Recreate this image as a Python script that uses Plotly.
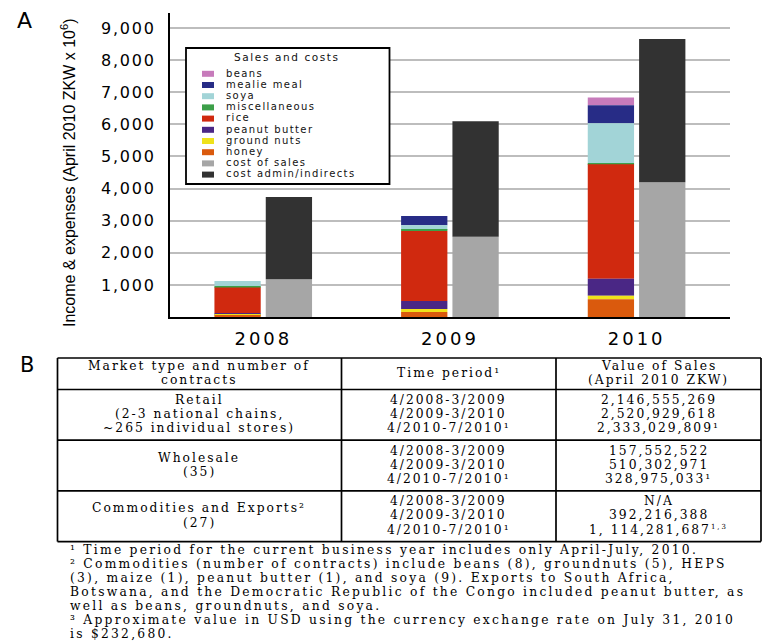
import numpy as np
import plotly.graph_objects as go

W, H = 764, 641

# ---------------- Panel A data ----------------
years = ["2008", "2009", "2010"]

sales_names = ["beans", "mealie meal", "soya", "miscellaneous", "rice",
               "peanut butter", "ground nuts", "honey"]
beans = [0, 0, 237]
mealie_meal = [0, 290, 561]
soya = [170, 137, 1246]
miscellaneous = [35, 40, 31]
rice = [800, 2181, 3565]
peanut_butter = [45, 250, 530]
ground_nuts = [35, 93, 112]
honey = [40, 156, 552]

cost_names = ["cost of sales", "cost admin/indirects"]
cost_of_sales = [1175, 2502, 4198]
cost_admin = [2565, 3597, 4465]

y_tick_vals = [1000, 2000, 3000, 4000, 5000, 6000, 7000, 8000, 9000]
y_tick_text = ["1,000", "2,000", "3,000", "4,000", "5,000", "6,000", "7,000", "8,000", "9,000"]

# ---------------- Panel B data ----------------
table_header = [["Market type and number of", "contracts"],
                ["Time period¹"],
                ["Value of Sales", "(April 2010 ZKW)"]]
market_types = [["Retail", "(2-3 national chains,", "~265 individual stores)"],
                ["Wholesale", "(35)"],
                ["Commodities and Exports²", "(27)"]]
time_periods = ["4/2008-3/2009", "4/2009-3/2010", "4/2010-7/2010¹"]
sales_values = [["2,146,555,269", "2,520,929,618", "2,333,029,809¹"],
                ["157,552,522", "510,302,971", "328,975,033¹"],
                ["N/A", "392,216,388",
                 '1, 114,281,687<sup><span style="font-size:7px">1,3</span></sup>']]
footnotes = [
    "¹ Time period for the current business year includes only April-July, 2010.",
    "² Commodities (number of contracts) include beans (8), groundnuts (5), HEPS",
    "(3), maize (1), peanut butter (1), and soya (9). Exports to South Africa,",
    "Botswana, and the Democratic Republic of the Congo included peanut butter, as",
    "well as beans, groundnuts, and soya.",
    "³ Approximate value in USD using the currency exchange rate on July 31, 2010",
    "is $232,680.",
]

# ---------------- styles ----------------
colors = {
    "beans": "#c77bbb",
    "mealie meal": "#272c86",
    "soya": "#a2d4d7",
    "miscellaneous": "#3c9f49",
    "rice": "#d0290f",
    "peanut butter": "#4a2785",
    "ground nuts": "#efe21b",
    "honey": "#da5a0d",
    "cost of sales": "#a6a6a6",
    "cost admin/indirects": "#323232",
}
SANS = "DejaVu Sans, Liberation Sans, Arial, sans-serif"
ARIAL = "Liberation Sans, Arial, sans-serif"
SERIF = "DejaVu Serif, Liberation Serif, serif"


def PX(x):
    return x / W


def PY(y):
    return 1 - y / H


def spaced(s, ls):
    return '<span style="letter-spacing:%.2fpx">%s</span>' % (ls, s)


series = {
    "beans": beans, "mealie meal": mealie_meal, "soya": soya,
    "miscellaneous": miscellaneous, "rice": rice, "peanut butter": peanut_butter,
    "ground nuts": ground_nuts, "honey": honey,
    "cost of sales": cost_of_sales, "cost admin/indirects": cost_admin,
}

# stacking bases (bottom-up)
bases = {}
acc = np.zeros(len(years))
for n in reversed(sales_names):
    bases[n] = acc.copy()
    acc = acc + np.array(series[n], dtype=float)
acc = np.zeros(len(years))
for n in cost_names:
    bases[n] = acc.copy()
    acc = acc + np.array(series[n], dtype=float)

fig = go.Figure()
BAR_W = 0.248
for n in sales_names + cost_names:
    is_sales = n in sales_names
    fig.add_trace(go.Bar(
        x=years, y=series[n], base=bases[n], name=n,
        offset=-0.262 if is_sales else 0.013, width=BAR_W,
        marker=dict(color=colors[n], line=dict(width=0)),
        showlegend=False,
    ))

shapes = []
annotations = []


def text_at(s, xc, yc, family, size, anchor="center", ls=0.0, color="black", angle=0):
    """Place a text so that its visual centre line sits at pixel row yc."""
    body = spaced(s, ls) if ls else s
    if angle:
        annotations.append(dict(text=body, x=PX(xc), y=PY(yc), xref="paper", yref="paper",
                                showarrow=False, xanchor="center", yanchor="middle",
                                textangle=angle, borderpad=0,
                                font=dict(family=family, size=size, color=color)))
        return
    annotations.append(dict(text=body, x=PX(xc), y=PY(yc + 0.586 * size), xref="paper", yref="paper",
                            showarrow=False, xanchor=anchor, yanchor="bottom", borderpad=0,
                            font=dict(family=family, size=size, color=color)))


# ---- custom legend box ----
lx0, ly0, lx1, ly1 = 186, 48, 389.5, 184
shapes.append(dict(type="rect", xref="paper", yref="paper",
                   x0=PX(lx0), x1=PX(lx1), y0=PY(ly0), y1=PY(ly1),
                   line=dict(color="black", width=1.8), fillcolor="white", layer="above"))
text_at("Sales and costs", 286.5, 58, SANS, 10.5, ls=1.6, color="#111")
for i, n in enumerate(sales_names + cost_names):
    yc = 73.8 + 11.2 * i
    shapes.append(dict(type="rect", xref="paper", yref="paper",
                       x0=PX(202), x1=PX(214), y0=PY(yc - 3), y1=PY(yc + 3),
                       line=dict(width=0), fillcolor=colors[n], layer="above"))
    text_at(n, 225, yc, SANS, 10, anchor="left", ls=1.4, color="#111")

# ---- axis title and panel labels ----
text_at("Income & expenses (April 2010 ZKW x 10<sup>6</sup>)", 68, 173, ARIAL, 16, angle=-90)
text_at("A", 24.5, 21.5, SANS, 22)
text_at("B", 27, 365.5, SANS, 21)

# ---- table B ----
tx = [57.5, 341.5, 556, 761]
t_top, h_bot = 358, 389.5
sec_h = 50.7
sec_bounds = [h_bot + sec_h * k for k in range(len(market_types) + 1)]
line_gap = 14.2
TF = 12.3
TLS = 2.0


def tline(x0, y0, x1, y1, w=1.7):
    shapes.append(dict(type="line", xref="paper", yref="paper",
                       x0=PX(x0), x1=PX(x1), y0=PY(y0), y1=PY(y1),
                       line=dict(color="black", width=w)))


tline(tx[0], t_top, tx[-1], t_top)
tline(tx[0], sec_bounds[-1], tx[-1], sec_bounds[-1])
for xv in tx:
    tline(xv, t_top, xv, sec_bounds[-1])
for yv in [h_bot] + sec_bounds[1:-1]:
    tline(tx[0], yv, tx[-1], yv)

col_c = [(tx[i] + tx[i + 1]) / 2 for i in range(3)]
h_mid = (t_top + h_bot) / 2
for ci, lines in enumerate(table_header):
    n = len(lines)
    for j, s in enumerate(lines):
        text_at(s, col_c[ci], h_mid + (j - (n - 1) / 2) * line_gap, SERIF, TF, ls=TLS)

for si in range(len(market_types)):
    mid = (sec_bounds[si] + sec_bounds[si + 1]) / 2
    mt = market_types[si]
    for j, s in enumerate(mt):
        text_at(s, col_c[0], mid + (j - (len(mt) - 1) / 2) * line_gap, SERIF, TF, ls=TLS)
    for j, s in enumerate(time_periods):
        text_at(s, col_c[1], mid + (j - 1) * line_gap, SERIF, TF, ls=TLS)
    for j, s in enumerate(sales_values[si]):
        text_at(s, col_c[2], mid + (j - 1) * line_gap, SERIF, TF, ls=TLS)

for k, s in enumerate(footnotes):
    text_at(s, 69, 550.7 + 14 * k, SERIF, TF, anchor="left", ls=2.25)

fig.update_layout(
    width=W, height=H,
    margin=dict(l=0, r=0, t=0, b=0),
    paper_bgcolor="white", plot_bgcolor="white",
    barmode="overlay",
    showlegend=False,
    shapes=shapes,
    annotations=annotations,
    xaxis=dict(
        domain=[PX(170), PX(730)], type="category", range=[-0.5, 2.5],
        tickvals=years, ticktext=[spaced(y, 3) for y in years],
        showline=True, linecolor="black", linewidth=2, showgrid=False,
        ticks="", ticklabelstandoff=4, zeroline=False,
        tickfont=dict(family=SANS, size=18, color="black"),
    ),
    yaxis=dict(
        domain=[PY(317), PY(13)], range=[0, 9470],
        tickvals=y_tick_vals, ticktext=[spaced(t, 1.8) for t in y_tick_text],
        showline=True, linecolor="black", linewidth=2,
        showgrid=True, gridcolor="#bdbdbd", gridwidth=1.5, zeroline=False,
        ticks="", ticklabelstandoff=9,
        tickfont=dict(family=SANS, size=16, color="black"),
    ),
)

fig.write_html("out.html", config={"displayModeBar": False},
               post_script="document.body.style.margin='0px';")
